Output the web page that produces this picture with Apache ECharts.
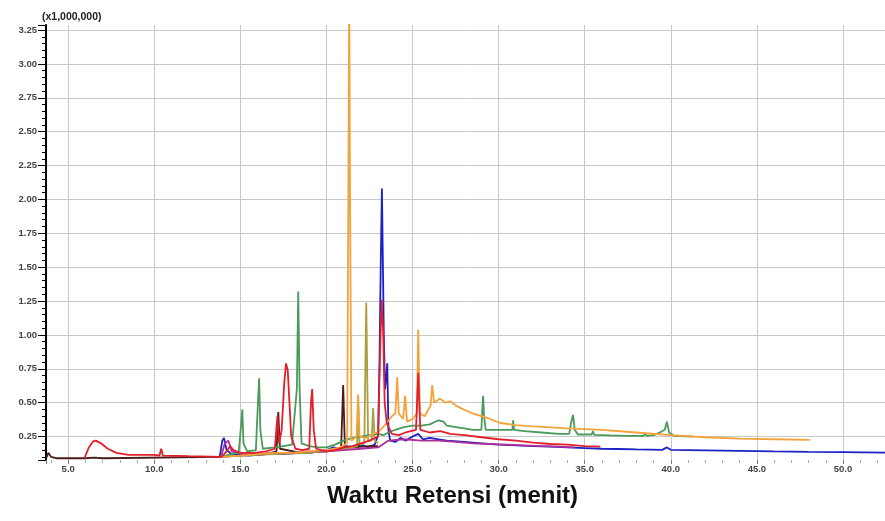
<!DOCTYPE html>
<html>
<head>
<meta charset="utf-8">
<script src="https://cdn.jsdelivr.net/npm/echarts@6/dist/echarts.min.js"></script>
<style>html,body{margin:0;padding:0;background:#fff;}#c{width:885px;height:521px;}</style>
</head>
<body>
<div id="c"></div>
<script>
// Retention time (min) / intensity (x1,000,000) pairs
const blueTrace = [[13.80,0.10],[13.95,0.22],[14.05,0.24],[14.20,0.15],[14.50,0.12],[15.50,0.11],[16.50,0.12],[17.50,0.12],[18.40,0.13],[19.00,0.13],[19.60,0.14],[20.00,0.15],[20.40,0.17],[20.80,0.16],[21.20,0.18],[21.60,0.17],[22.00,0.19],[22.40,0.17],[22.80,0.19],[23.00,0.26],[23.08,0.80],[23.15,1.50],[23.22,2.08],[23.27,1.60],[23.33,1.00],[23.40,0.60],[23.48,0.70],[23.53,0.79],[23.60,0.30],[23.70,0.22],[24.00,0.21],[24.30,0.24],[24.60,0.22],[25.00,0.25],[25.33,0.27],[25.60,0.23],[26.00,0.24],[26.50,0.23],[27.00,0.22],[28.00,0.21],[29.00,0.20],[30.00,0.19],[31.00,0.185],[32.00,0.18],[33.00,0.175],[34.00,0.17],[35.00,0.165],[36.00,0.16],[37.00,0.158],[38.00,0.155],[39.50,0.152],[39.77,0.17],[40.00,0.152],[42.00,0.148],[44.00,0.144],[46.00,0.140],[48.00,0.137],[50.00,0.135],[52.44,0.132]];
const darkTrace = [[3.72,0.09],[3.85,0.13],[4.00,0.10],[4.30,0.09],[6.00,0.09],[6.50,0.095],[7.00,0.09],[13.80,0.10],[15.00,0.11],[16.50,0.12],[17.10,0.14],[17.20,0.43],[17.30,0.16],[18.50,0.13],[20.00,0.14],[20.85,0.16],[20.97,0.63],[21.07,0.17],[21.50,0.17],[22.50,0.18],[23.00,0.18]];
const oliveTrace = [[13.80,0.10],[15.00,0.11],[17.00,0.12],[19.00,0.13],[20.50,0.15],[21.50,0.17],[21.78,0.18],[21.84,0.50],[21.92,0.19],[22.20,0.20],[22.31,1.24],[22.42,0.22],[22.62,0.22],[22.71,0.46],[22.80,0.22],[23.00,0.20]];
const magentaTrace = [[13.90,0.11],[14.10,0.20],[14.30,0.22],[14.50,0.14],[15.00,0.12],[16.00,0.12],[17.00,0.13],[18.00,0.13],[19.00,0.14],[20.00,0.14],[21.00,0.15],[22.00,0.16],[23.00,0.17],[23.60,0.22],[24.50,0.23],[25.50,0.22],[26.50,0.22],[27.50,0.21],[28.50,0.20],[29.50,0.195],[30.50,0.19],[31.50,0.185],[32.50,0.18],[33.50,0.175],[34.40,0.17]];
const greenTrace = [[13.80,0.10],[14.50,0.12],[14.90,0.13],[15.05,0.35],[15.11,0.45],[15.18,0.20],[15.40,0.14],[15.90,0.15],[16.02,0.50],[16.09,0.68],[16.16,0.30],[16.30,0.16],[17.00,0.17],[17.50,0.18],[18.00,0.19],[18.28,0.60],[18.36,1.32],[18.44,0.60],[18.55,0.20],[19.00,0.18],[19.50,0.17],[20.00,0.17],[20.50,0.19],[21.00,0.22],[21.50,0.24],[22.00,0.25],[22.50,0.26],[23.00,0.27],[23.30,0.26],[23.60,0.28],[24.00,0.30],[24.50,0.32],[25.00,0.33],[25.50,0.33],[26.00,0.34],[26.50,0.37],[26.80,0.36],[27.00,0.33],[27.50,0.32],[28.00,0.31],[28.50,0.30],[29.00,0.30],[29.05,0.45],[29.10,0.55],[29.15,0.40],[29.25,0.30],[30.00,0.30],[30.80,0.30],[30.84,0.37],[30.90,0.30],[31.50,0.29],[32.50,0.28],[33.50,0.27],[34.10,0.27],[34.22,0.36],[34.32,0.41],[34.42,0.30],[34.60,0.265],[35.40,0.265],[35.48,0.29],[35.55,0.262],[36.50,0.258],[37.50,0.255],[38.40,0.255],[38.50,0.27],[38.60,0.255],[39.00,0.26],[39.20,0.27],[39.30,0.26],[39.65,0.30],[39.77,0.36],[39.90,0.28],[40.20,0.255],[41.28,0.25]];
const orangeTrace = [[13.80,0.10],[15.00,0.11],[16.00,0.12],[17.00,0.13],[18.00,0.13],[19.00,0.14],[20.00,0.15],[20.80,0.17],[21.20,0.20],[21.27,2.00],[21.32,3.60],[21.37,2.00],[21.45,0.22],[21.75,0.25],[21.84,0.56],[21.92,0.25],[22.30,0.24],[22.70,0.27],[23.00,0.28],[23.50,0.35],[23.80,0.40],[24.00,0.42],[24.11,0.69],[24.20,0.42],[24.45,0.38],[24.57,0.55],[24.68,0.36],[25.00,0.38],[25.25,0.42],[25.33,1.04],[25.42,0.42],[25.70,0.40],[26.05,0.48],[26.14,0.63],[26.25,0.50],[26.60,0.53],[26.90,0.50],[27.20,0.51],[27.50,0.48],[27.80,0.46],[28.50,0.42],[29.30,0.39],[30.10,0.35],[31.00,0.335],[32.00,0.325],[34.00,0.31],[36.00,0.30],[38.00,0.28],[40.00,0.26],[42.00,0.245],[44.00,0.235],[46.00,0.23],[48.07,0.225]];
const redTrace = [[5.94,0.09],[6.20,0.17],[6.45,0.215],[6.60,0.22],[6.90,0.20],[7.30,0.16],[7.80,0.13],[8.50,0.115],[10.00,0.115],[10.30,0.11],[10.40,0.16],[10.50,0.11],[12.00,0.105],[13.90,0.10],[14.20,0.14],[14.40,0.18],[14.60,0.15],[15.00,0.13],[15.80,0.13],[16.50,0.14],[17.00,0.16],[17.15,0.40],[17.25,0.20],[17.40,0.30],[17.55,0.65],[17.65,0.79],[17.75,0.74],[17.85,0.50],[17.95,0.25],[18.20,0.16],[18.60,0.15],[19.00,0.16],[19.10,0.50],[19.17,0.60],[19.26,0.30],[19.40,0.16],[20.00,0.14],[20.50,0.15],[21.00,0.17],[21.50,0.18],[22.00,0.20],[22.50,0.22],[23.00,0.25],[23.10,0.80],[23.20,1.26],[23.30,1.00],[23.38,0.50],[23.50,0.35],[23.80,0.27],[24.20,0.26],[24.60,0.28],[25.20,0.30],[25.33,0.72],[25.45,0.30],[26.00,0.28],[26.60,0.29],[27.20,0.27],[28.00,0.26],[29.00,0.245],[30.00,0.23],[31.00,0.22],[32.00,0.205],[33.00,0.195],[34.00,0.19],[35.00,0.18],[35.90,0.175]];

const traceNames = ['blue','dark','olive','magenta','green','orange','red'];
const traceData = [blueTrace, darkTrace, oliveTrace, magentaTrace, greenTrace, orangeTrace, redTrace];
const traceColors = ['#1c22c4','#4a1c1c','#a8a040','#b0309a','#4a9a5c','#f2a33a','#e2202c'];

const chart = echarts.init(document.getElementById('c'), null, {renderer:'canvas'});
const font = 'Liberation Sans, Arial, sans-serif';
chart.setOption({
  animation: false,
  backgroundColor: '#ffffff',
  title: {
    text: '(x1,000,000)', left: 37, top: 7,
    textStyle: {fontSize: 10.5, fontWeight: 'bold', color: '#222', fontFamily: font}
  },
  grid: {left: 46, right: 0, top: 25, bottom: 61, containLabel: false},
  xAxis: {
    type: 'value', min: 3.71, max: 52.44, minInterval: 5, maxInterval: 5,
    name: 'Waktu Retensi (menit)', nameLocation: 'middle', nameGap: 24,
    nameTextStyle: {fontSize: 24, fontWeight: 'bold', color: '#111', fontFamily: font, padding: [0, 26, 0, 0]},
    axisLine: {show: false},
    axisTick: {show: true, length: 4, lineStyle: {color: '#777'}},
    minorTick: {show: true, splitNumber: 5, length: 3, lineStyle: {color: '#aaa'}},
    axisLabel: {fontSize: 9.5, fontWeight: 'bold', color: '#444', margin: 4, fontFamily: font, showMinLabel: false, showMaxLabel: false,
      formatter: v => v.toFixed(1)},
    splitLine: {show: true, showMinLine: false, showMaxLine: false, lineStyle: {color: '#c8c8c8', width: 1}}
  },
  yAxis: {
    type: 'value', min: 0.077, max: 3.287, minInterval: 0.25, maxInterval: 0.25,
    axisLine: {show: true, lineStyle: {color: '#000', width: 2}},
    axisTick: {show: true, length: 8, lineStyle: {color: '#000'}},
    minorTick: {show: true, splitNumber: 5, length: 4, lineStyle: {color: '#000'}},
    axisLabel: {fontSize: 9.5, fontWeight: 'bold', color: '#444', margin: 9, fontFamily: font, showMinLabel: false, showMaxLabel: false,
      formatter: v => v.toFixed(2)},
    splitLine: {show: true, showMinLine: false, showMaxLine: false, lineStyle: {color: '#c8c8c8', width: 1}}
  },
  series: traceData.map((d, i) => ({
    name: traceNames[i], type: 'line', data: d, showSymbol: false, clip: true,
    lineStyle: {width: 1.8, color: traceColors[i]}, itemStyle: {color: traceColors[i]}
  }))
});
</script>
</body>
</html>
